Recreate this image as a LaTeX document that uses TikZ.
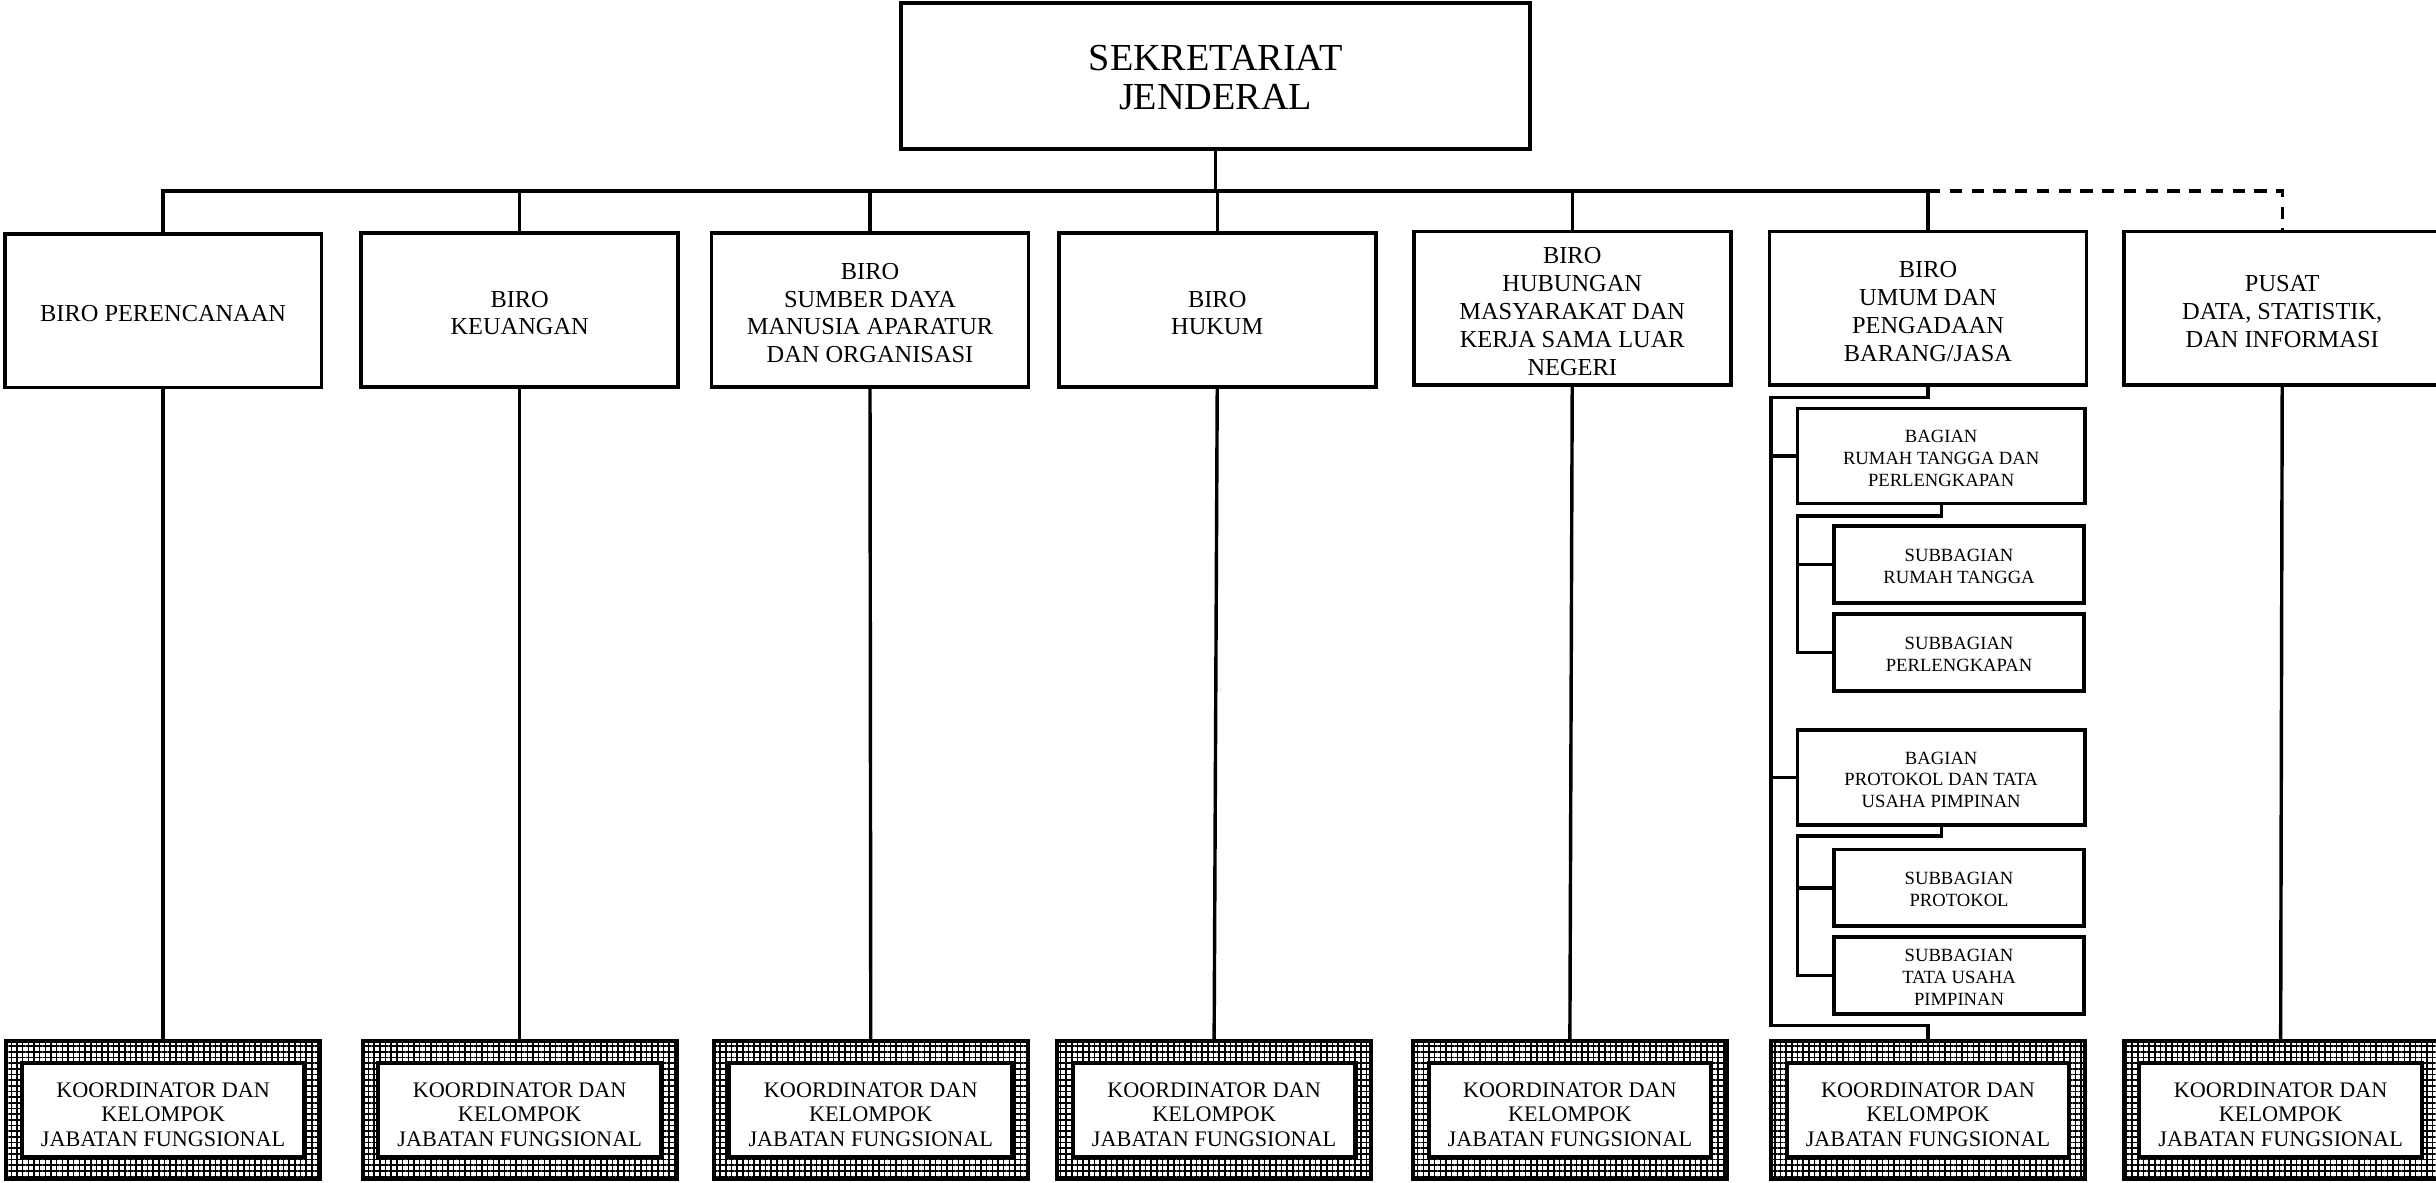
\documentclass[tikz,border=0pt]{standalone}
\usepackage{fontspec}
\setmainfont{Liberation Serif}
\usetikzlibrary{patterns.meta}
\tikzset{
  box/.style={draw, line width=2.4pt, inner sep=0pt, fill=white,
    minimum width=204pt, minimum height=99pt},
  boxtxt/.style={align=center, inner sep=0pt, font=\fontsize{15.7}{18}\selectfont},
  topbox/.style={draw, line width=2.5pt, inner sep=0pt,
    minimum width=405pt, minimum height=94pt},
  topboxtxt/.style={align=center, inner sep=0pt, font=\fontsize{24.6}{25}\selectfont},
  bagbox/.style={draw, line width=2.4pt, inner sep=0pt,
    minimum width=185pt, minimum height=61pt},
  bagboxtxt/.style={align=center, inner sep=0pt, font=\fontsize{12}{14}\selectfont},
  subbox/.style={draw, line width=2.4pt, inner sep=0pt,
    minimum width=161pt, minimum height=49.5pt},
  subboxtxt/.style={align=center, inner sep=0pt, font=\fontsize{12}{14}\selectfont},
  jfouter/.style={draw, line width=2.5pt, inner sep=0pt, minimum width=202pt, minimum height=89pt,
    pattern={Hatch[angle=0,distance=3.65pt,line width=1pt]}},
  jfinner/.style={draw, line width=2.6pt, fill=white, inner sep=0pt,
    minimum width=182pt, minimum height=61pt},
  jftxt/.style={align=center, inner sep=0pt, font=\fontsize{14.3}{16}\selectfont},
  conn/.style={line width=2.2pt},
  dconn/.style={line width=2.2pt, dash pattern=on 8pt off 6pt}
}
\newcommand{\bx}[5]{%
  \node[#1] (#2) at (#3) {};
  \node[#1txt, yshift=-#5pt] (#2t) at (#2.center) {#4};
}
\newcommand{\jfbox}[3]{%
  \node[jfouter] (#1) at (#2,#3) {};
  \node[jfinner] (#1i) at (#2,#3) {};
  \node[jftxt, yshift=-3pt] (#1t) at (#1i.center) {KOORDINATOR DAN\\KELOMPOK\\JABATAN FUNGSIONAL};
}
\begin{document}
\begin{tikzpicture}[x=1pt,y=-1pt]
\useasboundingbox (0,0) rectangle (1568,761);
\fill[white] (0,0) rectangle (1568,761);

% top
\bx{topbox}{sek}{782.5,49}{SEKRETARIAT\\JENDERAL}{1}

% level 1
\bx{box}{b1}{105,200}{BIRO PERENCANAAN}{2}
\bx{box}{b2}{334.5,199.5}{BIRO\\KEUANGAN}{2}
\bx{box}{b3}{560,199.5}{BIRO\\SUMBER DAYA\\MANUSIA APARATUR\\DAN ORGANISASI}{2}
\bx{box}{b4}{783.5,199.5}{BIRO\\HUKUM}{2}
\bx{box}{b5}{1012,198.5}{BIRO\\HUBUNGAN\\MASYARAKAT DAN\\KERJA SAMA LUAR\\NEGERI}{2}
\bx{box}{b6}{1241,198.5}{BIRO\\UMUM DAN\\PENGADAAN\\BARANG/JASA}{2}
\bx{box}{b7}{1469,198.5}{PUSAT\\DATA, STATISTIK,\\DAN INFORMASI}{2}

% bagian / subbagian
\bx{bagbox}{bg1}{1249.5,293.5}{BAGIAN\\RUMAH TANGGA DAN\\PERLENGKAPAN}{1.5}
\bx{subbox}{sb1}{1261,363.5}{SUBBAGIAN\\RUMAH TANGGA}{1}
\bx{subbox}{sb2}{1261,420}{SUBBAGIAN\\PERLENGKAPAN}{1}
\bx{bagbox}{bg2}{1249.5,500.5}{BAGIAN\\PROTOKOL DAN TATA\\USAHA PIMPINAN}{1.5}
\bx{subbox}{sb3}{1261,571.5}{SUBBAGIAN\\PROTOKOL}{1}
\bx{subbox}{sb4}{1261,628}{SUBBAGIAN\\TATA USAHA\\PIMPINAN}{1}

% koordinator
\jfbox{k1}{105}{714.5}
\jfbox{k2}{334.5}{714.5}
\jfbox{k3}{560.5}{714.5}
\jfbox{k4}{781.5}{714.5}
\jfbox{k5}{1010.5}{714.5}
\jfbox{k6}{1241}{714.5}
\jfbox{k7}{1468}{714.5}

% bus
\coordinate (bus) at (0,123);
\draw[conn] (sek.south) -- (sek.south |- bus);
\draw[conn] (b1.north) -- (b1.north |- bus) -- (b6.north |- bus) -- (b6.north);
\foreach \n in {b2,b3,b4,b5} \draw[conn] (\n.north) -- (\n.north |- bus);
\draw[dconn] (b6.north |- bus) -- (b7.north |- bus) -- (b7.north);

% verticals
\foreach \i in {1,2,3,4,5,7} \draw[conn] (b\i.south) -- (k\i.north);

% right column
\coordinate (u1) at (1140,256);
\coordinate (u2) at (1140,660);
\draw[conn] (b6.south) |- (u1) -- (u2) -| (k6.north);
\draw[conn] (u1 |- bg1.west) -- (bg1.west);
\draw[conn] (u1 |- bg2.west) -- (bg2.west);

\coordinate (v1) at (1157,332);
\draw[conn] (bg1.south) |- (v1) -- (v1 |- sb2.west) -- (sb2.west);
\draw[conn] (v1 |- sb1.west) -- (sb1.west);

\coordinate (v2) at (1157,538);
\draw[conn] (bg2.south) |- (v2) -- (v2 |- sb4.west) -- (sb4.west);
\draw[conn] (v2 |- sb3.west) -- (sb3.west);
\end{tikzpicture}
\end{document}
